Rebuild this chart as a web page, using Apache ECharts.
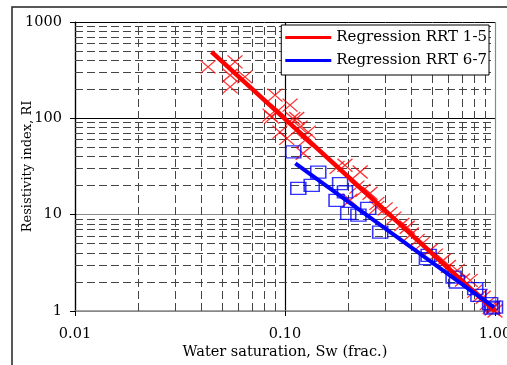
<!DOCTYPE html>
<html><head><meta charset="utf-8">
<script src="https://cdn.jsdelivr.net/npm/echarts@6/dist/echarts.min.js"></script>
<style>html,body{margin:0;padding:0;background:#fff}#c{width:507px;height:365px}</style>
</head><body><div id="c"></div>
<script>
// RRT 1-5 measured points (Sw, RI)
const rrt15Sw = [0.043,0.0578,0.0548,0.0548,0.0644,0.0896,0.093,0.1057,0.0864,0.1137,0.0848,0.0946,0.109,0.118,0.129,0.1245,0.1019,0.193,0.228,0.122,0.177,0.220,0.204,0.254,0.274,0.235,0.274,0.316,0.382,0.426,0.491,0.567,0.661,0.762,0.879,0.948,0.30,0.33,0.36,0.40,0.45,0.52,0.60,0.70,0.80,0.85,0.92,0.97,1.0,0.98];
const rrt15RI = [342,385,280,212,269,174,121,137,103,99.5,108,72,99.5,81,72,59,62,32.6,27.7,43.4,31,19.3,14.1,16.7,11.9,17.9,13.1,10.3,7.4,5.4,4.27,3.36,2.64,2.08,1.39,1.09,11.5,9.2,7.9,6.3,5.0,3.8,2.9,2.1,1.6,1.45,1.2,1.05,1.0,1.1];
// RRT 6-7 measured points (Sw, RI)
const rrt67Sw = [0.1095,0.144,0.1157,0.134,0.183,0.193,0.176,0.200,0.2237,0.249,0.284,0.483,0.474,0.635,0.659,0.805,0.834,0.948,0.965,1.0];
const rrt67RI = [44.8,27.7,18.7,20.2,21,17.2,14.1,10.3,9.87,11.6,6.6,3.78,3.5,2.25,2.0,1.71,1.45,1.19,1.07,1.1];
// Regression line end points
const reg15Sw = [0.0447,1.0];
const reg15RI = [489,1.0];
const reg67Sw = [0.112,0.99];
const reg67RI = [34,1.09];
// Axis ticks
const xTicks = [0.01,0.1,1];
const yTicks = [1,10,100,1000];
const minorX = [0.02,0.03,0.04,0.05,0.06,0.07,0.08,0.09,0.2,0.3,0.4,0.5,0.6,0.7,0.8,0.9];
const minorY = [2,3,4,5,6,7,8,9,20,30,40,50,60,70,80,90,200,300,400,500,600,700,800,900];

const zip = (a,b)=>a.map((v,i)=>[v,b[i]]);
const FONT = 'DejaVu Serif';
const chart = echarts.init(document.getElementById('c'), null, {renderer:'canvas'});
const minorLines = minorX.map(v=>({xAxis:v})).concat(minorY.map(v=>({yAxis:v})));
chart.setOption({
  animation:false,
  backgroundColor:'#fff',
  graphic:[{type:'rect',shape:{x:12,y:7,width:520,height:400},style:{fill:'none',stroke:'#222',lineWidth:1.5},z:-10}],
  grid:{left:75,right:12,top:22,bottom:54,containLabel:false,outerBoundsMode:'none'},
  legend:{
    right:18, top:25, orient:'vertical',
    data:['Regression RRT 1-5','Regression RRT 6-7'],
    icon:'rect', itemWidth:46, itemHeight:3, itemGap:8,
    padding:[5,2,7,4],
    backgroundColor:'#fff', borderColor:'#000', borderWidth:1,
    textStyle:{fontFamily:FONT,fontSize:15,color:'#000'}
  },
  xAxis:{
    type:'log', logBase:10, min:0.01, max:1,
    name:'Water saturation, Sw (frac.)', nameLocation:'middle', nameGap:34, nameMoveOverlap:false,
    nameTextStyle:{fontFamily:FONT,fontSize:14.5,color:'#000'},
    axisLine:{show:true,lineStyle:{color:'#888',width:1.5}},
    axisTick:{show:true,inside:false,length:5,lineStyle:{color:'#000'}},
    axisLabel:{fontFamily:FONT,fontSize:14.5,color:'#000',margin:16,formatter:v=>v.toFixed(2)},
    splitLine:{show:true,lineStyle:{color:['#000','#000','#888'],width:1.2}}
  },
  yAxis:{
    type:'log', logBase:10, min:1, max:1000,
    name:'Resistivity index, RI', nameLocation:'middle', nameGap:41, nameMoveOverlap:false,
    nameTextStyle:{fontFamily:FONT,fontSize:13,color:'#000'},
    axisLine:{show:true,lineStyle:{color:'#000',width:1.2}},
    axisTick:{show:true,inside:false,length:5,lineStyle:{color:'#000'}},
    axisLabel:{fontFamily:FONT,fontSize:14.5,color:'#000',margin:13,formatter:v=>String(Math.round(v))},
    splitLine:{show:true,lineStyle:{color:['#888','#888','#000','#000'],width:1.2}}
  },
  series:[
    {type:'line',name:'grid',data:[],silent:true,z:1,
     markLine:{silent:true,symbol:'none',z:1,label:{show:false},
       lineStyle:{type:[8,4],color:'#444',width:1},data:minorLines}},
    {type:'scatter',name:'RRT 1-5',z:3,data:zip(rrt15Sw,rrt15RI),
     symbol:'path://M0,0L10,10M10,0L0,10',symbolSize:[15,13],
     itemStyle:{color:'transparent',borderColor:'#ff0000',borderWidth:1.3}},
    {type:'scatter',name:'RRT 6-7',z:3,data:zip(rrt67Sw,rrt67RI),
     symbol:'rect',symbolSize:[15,12],
     itemStyle:{color:'transparent',borderColor:'#0000ff',borderWidth:1.4}},
    {type:'line',name:'Regression RRT 1-5',z:4,data:zip(reg15Sw,reg15RI),
     symbol:'none',showSymbol:false,lineStyle:{color:'#ff0000',width:4.5},itemStyle:{color:'#ff0000'}},
    {type:'line',name:'Regression RRT 6-7',z:4,data:zip(reg67Sw,reg67RI),
     symbol:'none',showSymbol:false,lineStyle:{color:'#0000ff',width:4},itemStyle:{color:'#0000ff'}}
  ]
});
</script></body></html>
